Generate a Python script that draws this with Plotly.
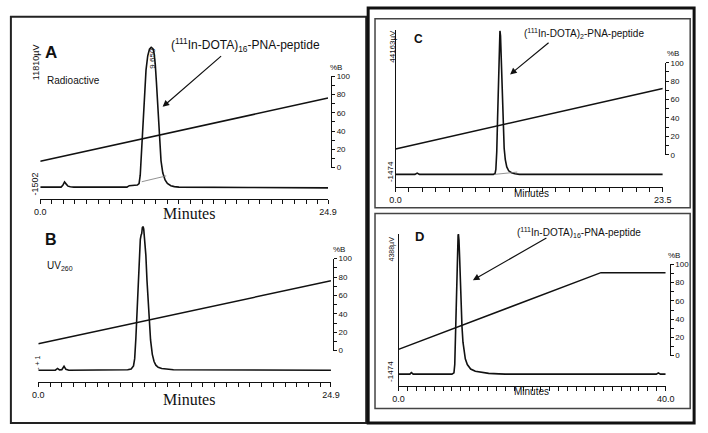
import plotly.graph_objects as go

W, H = 708, 433

# ---------------- data ----------------
# Panel A : radioactivity trace (µV) and %B gradient
A_time = [0, 1.8, 1.95, 2.1, 2.25, 2.4, 2.6, 2.9, 7.5, 7.7, 8.4, 8.55, 8.65, 8.75, 8.85, 8.95,
          9.05, 9.15, 9.3, 9.45, 9.6, 9.75, 9.85, 9.95, 10.05, 10.15, 10.25, 10.35, 10.45,
          10.6, 10.8, 11.0, 11.3, 11.6, 12.0, 18.0, 24.9]
A_signal = [0, 0, 150, 430, 250, 80, 30, 0, 0, 120, 170, 300, 1000, 2600, 4600, 6600,
            8400, 9800, 11000, 11550, 11700, 11600, 11200, 10300, 8800, 6900, 5000, 3400, 2200,
            1200, 600, 300, 120, 40, 0, -30, -60]
A_int_time = [8.78, 10.9]
A_int_signal = [450, 940]
A_grad_time = [0, 24.9]
A_grad_B = [6.8, 76.3]

# Panel B : UV260 trace (relative units) and %B gradient
B_time = [0, 1.45, 1.64, 1.8, 2.0, 2.19, 2.35, 2.6, 7.6, 7.9, 8.1, 8.2, 8.3, 8.4, 8.5, 8.6,
          8.68, 8.75, 8.8, 8.85, 8.91, 8.97, 9.05, 9.15, 9.25, 9.35, 9.45, 9.55, 9.7, 9.85,
          10.0, 10.2, 10.5, 11.0, 11.5, 24.9]
B_signal = [0, 0, 1.2, 0.2, 0.3, 2.7, 0.6, 0, 0.3, 0.8, 3, 8, 22, 42, 63, 80,
            91, 94, 95, 99, 100, 98, 92, 80, 62, 46, 32, 21, 11, 6,
            3.5, 2, 1.2, 0.6, 0.3, 0]
B_grad_time = [0, 24.9]
B_grad_B = [7.4, 75.9]

# Panel C : (111In-DOTA)2 trace (µV) and %B gradient
C_time = [0, 1.7, 1.9, 2.1, 8.6, 8.75, 8.82, 8.9, 8.97, 9.03, 9.09, 9.14, 9.18, 9.23, 9.28,
          9.34, 9.4, 9.47, 9.55, 9.65, 9.78, 9.95, 10.2, 10.5, 10.9, 23.5]
C_signal = [0, 0, 400, 0, 0, 300, 1500, 7000, 17000, 27000, 36000, 42000, 44100, 42500, 37000,
            29000, 21000, 13500, 8000, 4500, 2300, 1100, 500, 200, 0, 0]
C_int_time = [8.7, 10.7]
C_int_signal = [0, 700]
C_grad_time = [0, 23.5]
C_grad_B = [6.4, 72]

# Panel D : (111In-DOTA)16 trace (µV) and %B gradient
D_time = [0, 1.7, 1.93, 2.2, 8.0, 8.3, 8.42, 8.52, 8.62, 8.72, 8.82, 8.92, 8.97, 9.05, 9.15,
          9.25, 9.37, 9.5, 9.65, 9.8, 10.0, 10.3, 10.8, 11.5, 12.5, 13.5, 15.0, 16.0, 38.6,
          38.9, 39.2, 40.0]
D_signal = [0, 0, 50, 0, 0, 40, 300, 1200, 2200, 3200, 3950, 4350, 4388, 4200, 3650,
            2950, 2200, 1500, 1000, 700, 480, 300, 160, 90, 50, 25, 10, 0, 0,
            40, 0, 0]
D_grad_time = [0, 30.3, 40]
D_grad_B = [6.8, 91, 91]

# axis tick labels
A_xticks = [float(v) for v in range(0, 25)] + [24.9]
B_xticks = A_xticks
C_xticks = [0, 1.175, 2.35, 3.525, 4.7, 5.875, 7.05, 8.225, 9.4, 10.575, 11.75, 12.925,
            14.1, 15.275, 16.45, 17.625, 18.8, 19.975, 21.15, 22.325, 23.5]
D_xticks = [0, 1.33, 2.67, 4, 5.33, 6.67, 8, 9.33, 10.67, 12, 13.33, 14.67, 16, 17.33, 18.67,
            20, 21.33, 22.67, 24, 25.33, 26.67, 28, 29.33, 30.67, 32, 33.33, 34.67, 36, 37.33,
            38.67, 40]
B_pct_ticks = [0, 10, 20, 30, 40, 50, 60, 70, 80, 90, 100]
B_pct_text = ["0", "", "20", "", "40", "", "60", "", "80", "", "100"]

# ---------------- layout helpers ----------------
def px(x):
    return x / W


def py(y):
    return 1 - y / H


SANS = "Liberation Sans, Arial, sans-serif"
SERIF = "Liberation Serif, Times New Roman, serif"
INK = "#111111"
CLEAR = "rgba(0,0,0,0)"

panels = [
    dict(key="A", t=A_time, s=A_signal, gt=A_grad_time, gb=A_grad_B, xt=A_xticks, end="24.9",
         x0=35, x1=329, ybot=199, ytop=43, rng=[-984, 11810], b0=167, b100=74, bx=332,
         leftline=False),
    dict(key="B", t=B_time, s=B_signal, gt=B_grad_time, gb=B_grad_B, xt=B_xticks, end="24.9",
         x0=33, x1=332, ybot=386, ytop=227, rng=[-8.2, 100], b0=354, b100=260, bx=334,
         leftline=False),
    dict(key="C", t=C_time, s=C_signal, gt=C_grad_time, gb=C_grad_B, xt=C_xticks, end="23.5",
         x0=398, x1=671, ybot=187, ytop=27, rng=[-3905, 44163], b0=154, b100=60, bx=673,
         leftline=True),
    dict(key="D", t=D_time, s=D_signal, gt=D_grad_time, gb=D_grad_B, xt=D_xticks, end="40.0",
         x0=401, x1=674, ybot=390, ytop=235, rng=[-368, 4388], b0=359, b100=266, bx=678,
         leftline=True),
]

fig = go.Figure()
layout = dict(
    width=W, height=H, margin=dict(l=0, r=0, t=0, b=0),
    paper_bgcolor="white", plot_bgcolor=CLEAR, showlegend=False,
)

for i, p in enumerate(panels):
    xn = i + 1
    ys = 2 * i + 1
    yg = 2 * i + 2
    xname = "x" if xn == 1 else f"x{xn}"
    ysname = "y" if ys == 1 else f"y{ys}"
    ygname = f"y{yg}"

    fig.add_trace(go.Scatter(x=p["gt"], y=p["gb"], mode="lines", xaxis=xname, yaxis=ygname,
                             line=dict(color=INK, width=1.5), hoverinfo="skip", cliponaxis=False))
    fig.add_trace(go.Scatter(x=p["t"], y=p["s"], mode="lines", xaxis=xname, yaxis=ysname,
                             line=dict(color=INK, width=1.6), hoverinfo="skip", cliponaxis=False))

    ticktext = ["0.0"] + [""] * (len(p["xt"]) - 2) + [p["end"]]
    layout["xaxis" if xn == 1 else f"xaxis{xn}"] = dict(
        domain=[px(p["x0"]), px(p["x1"])], range=[0, p["xt"][-1]], anchor=ysname,
        showgrid=False, zeroline=False, showline=True, linecolor=INK, linewidth=1.3,
        ticks="outside", ticklen=4, tickwidth=1, tickcolor=INK,
        tickmode="array", tickvals=p["xt"], ticktext=ticktext,
        tickfont=dict(family=SANS, size=9, color=INK), fixedrange=True,
    )
    layout["yaxis" if ys == 1 else f"yaxis{ys}"] = dict(
        domain=[py(p["ybot"]), py(p["ytop"])], range=p["rng"], anchor=xname,
        showgrid=False, zeroline=False, showline=p["leftline"], linecolor=INK, linewidth=1.3,
        showticklabels=False, ticks="", fixedrange=True,
    )
    layout[f"yaxis{yg}"] = dict(
        domain=[py(p["b0"]), py(p["b100"])], range=[0, 100], anchor="free",
        position=px(p["bx"]), side="right",
        showgrid=False, zeroline=False, showline=True, linecolor=INK, linewidth=1.2,
        ticks="outside", ticklen=3, tickwidth=1, tickcolor=INK,
        tickmode="array", tickvals=B_pct_ticks, ticktext=B_pct_text,
        tickfont=dict(family=SANS, size=8, color=INK), fixedrange=True,
    )

# integration baselines (thin grey)
fig.add_trace(go.Scatter(x=A_int_time, y=A_int_signal, mode="lines", xaxis="x", yaxis="y",
                         line=dict(color="#777777", width=0.8), hoverinfo="skip"))
fig.add_trace(go.Scatter(x=C_int_time, y=C_int_signal, mode="lines", xaxis="x3", yaxis="y5",
                         line=dict(color="#777777", width=0.8), hoverinfo="skip"))

ann = []


def text(x, y, s, size, family=SANS, angle=0, xanchor="center", color=INK):
    ann.append(dict(x=px(x), y=py(y), xref="paper", yref="paper", text=s, showarrow=False,
                    textangle=angle, xanchor=xanchor, yanchor="middle",
                    font=dict(family=family, size=size, color=color)))


def arrow(tx, ty, hx, hy):
    ann.append(dict(x=px(hx), y=py(hy), xref="paper", yref="paper", text="",
                    showarrow=True, ax=tx - hx, ay=ty - hy, arrowhead=2, arrowsize=1.1,
                    arrowwidth=1.2, arrowcolor=INK, standoff=0, startstandoff=0))


# panel letters
text(46, 50, "<b>A</b>", 17)
text(46, 241, "<b>B</b>", 16)
text(421, 36, "<b>C</b>", 12)
text(422, 237, "<b>D</b>", 13)

# detector labels
text(40, 78, "Radioactive", 10, xanchor="left")
text(40, 268, "UV<sub>260</sub>", 10, xanchor="left")

# compound labels + arrows
text(245, 42, "(<sup>111</sup>In-DOTA)<sub>16</sub>-PNA-peptide", 12)
arrow(220, 53, 160, 105)
text(591, 30, "(<sup>111</sup>In-DOTA)<sub>2</sub>-PNA-peptide", 10)
arrow(555, 39, 515, 72)
text(585, 233, "(<sup>111</sup>In-DOTA)<sub>16</sub>-PNA-peptide", 10)
arrow(552, 239, 477, 282)

# left-axis scale labels (rotated)
text(30, 59, "11810µV", 9, SANS, -90)
text(30, 184, "-1502", 9, SANS, -90)
text(32, 366, "- + 1", 7, SANS, -90)
text(394, 43, "44163µV", 8, SANS, -90)
text(393, 171, "-1474", 8, SANS, -90)
text(394, 250, "4388µV", 7, SANS, -90)
text(393, 375, "-1474", 8, SANS, -90)

# retention time on peak A
text(150, 55, "9.650", 8, SANS, -90)

# %B titles
text(337, 65, "%B", 8)
text(340, 251, "%B", 8)
text(681, 51, "%B", 8)
text(682, 257, "%B", 8)

# x-axis titles
text(187, 214, "Minutes", 16, SERIF)
text(187, 404, "Minutes", 16, SERIF)
text(537, 194, "Minutes", 10)
text(537, 396, "Minutes", 10)

layout["annotations"] = ann

# frames
shapes = [
    dict(type="rect", xref="paper", yref="paper", x0=px(5), x1=px(368), y0=py(428), y1=py(13),
         line=dict(color="#222222", width=2)),
    dict(type="rect", xref="paper", yref="paper", x0=px(370), x1=px(703), y0=py(428), y1=py(4),
         line=dict(color="#111111", width=3)),
    dict(type="rect", xref="paper", yref="paper", x0=px(377), x1=px(699), y0=py(208), y1=py(15),
         line=dict(color="#444444", width=1.5)),
    dict(type="rect", xref="paper", yref="paper", x0=px(377), x1=px(699), y0=py(413), y1=py(214),
         line=dict(color="#444444", width=1.5)),
]
layout["shapes"] = shapes

fig.update_layout(**layout)
fig.write_html(
    "out.html",
    config={"displayModeBar": False},
    post_script="document.documentElement.style.margin='0';document.body.style.margin='0';"
                "document.body.style.padding='0';document.body.style.overflow='hidden';",
)
